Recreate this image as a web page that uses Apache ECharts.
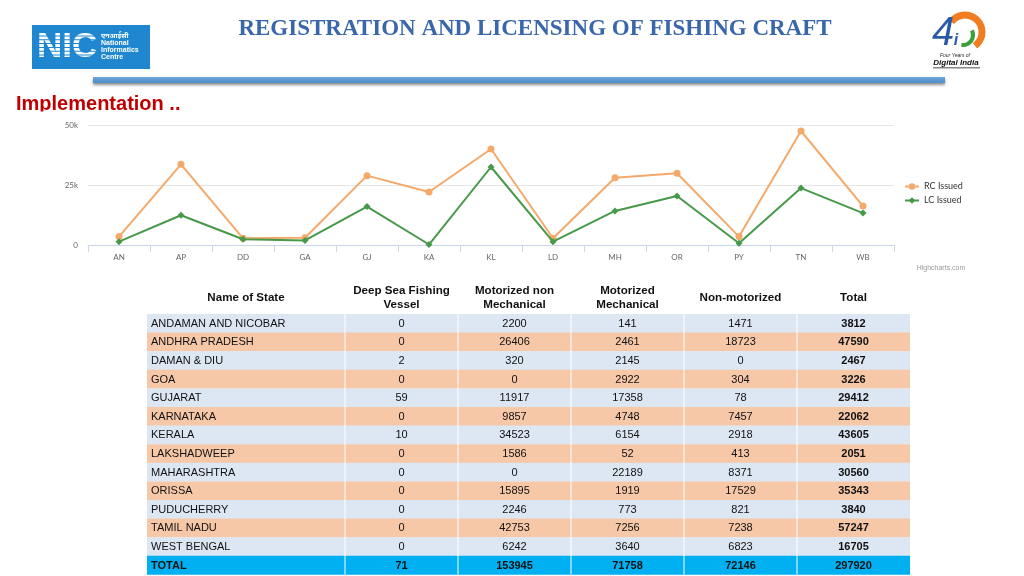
<!DOCTYPE html>
<html>
<head>
<meta charset="utf-8">
<script src="https://cdn.jsdelivr.net/npm/echarts@6/dist/echarts.min.js"></script>
<style>
html,body{margin:0;padding:0;background:#fff;}
#c{width:1024px;height:576px;}
</style>
</head>
<body>
<div id="c"></div>
<script>
// ---- chart data ----
const categories = ['AN','AP','DD','GA','GJ','KA','KL','LD','MH','OR','PY','TN','WB'];
const rcIssued = [3500, 33600, 2800, 3000, 28900, 22100, 40000, 2800, 28000, 29900, 3500, 47500, 16200];
const lcIssued = [1400, 12400, 2400, 1900, 16000, 200, 32500, 1400, 14200, 20400, 700, 23700, 13300];
const yTicks = [0, 25000, 50000];
const seriesNames = ['RC Issued', 'LC Issued'];

// ---- table data ----
const tableHeaders = ['Name of State', 'Deep Sea Fishing\nVessel', 'Motorized non\nMechanical', 'Motorized\nMechanical', 'Non-motorized', 'Total'];
const stateNames = ['ANDAMAN AND NICOBAR','ANDHRA PRADESH','DAMAN & DIU','GOA','GUJARAT','KARNATAKA','KERALA','LAKSHADWEEP','MAHARASHTRA','ORISSA','PUDUCHERRY','TAMIL NADU','WEST BENGAL'];
const deepSea = [0, 0, 2, 0, 59, 0, 10, 0, 0, 0, 0, 0, 0];
const motorizedNonMech = [2200, 26406, 320, 0, 11917, 9857, 34523, 1586, 0, 15895, 2246, 42753, 6242];
const motorizedMech = [141, 2461, 2145, 2922, 17358, 4748, 6154, 52, 22189, 1919, 773, 7256, 3640];
const nonMotorized = [1471, 18723, 0, 304, 78, 7457, 2918, 413, 8371, 17529, 821, 7238, 6823];
const totals = [3812, 47590, 2467, 3226, 29412, 22062, 43605, 2051, 30560, 35343, 3840, 57247, 16705];
const totalRow = ['TOTAL', 71, 153945, 71758, 72146, 297920];

const titleText = 'REGISTRATION AND LICENSING OF FISHING CRAFT';
const subTitleText = 'Implementation ..';

// ---- layout ----
const colEdges = [147, 345, 458, 571, 684, 797, 910];
const rowTop = 314, rowH = 18.6;
const FONT = '"Liberation Sans", Arial, sans-serif';

function txt(text, x, y, font, fill, align, valign, z) {
  return {type: 'text', z: z || 10, style: {text: text, x: x, y: y, font: font, fill: fill,
    align: align || 'left', textAlign: align || 'left',
    verticalAlign: valign || 'middle', textVerticalAlign: valign || 'middle'}};
}

const g = [];
// title
g.push(txt(titleText, 535, 29, 'bold 23px "Liberation Serif", "Times New Roman", serif', '#3a66aa', 'center', 'middle'));
// subtitle (clipped at the bottom)
g.push(txt(subTitleText, 16, 94, 'bold 20px ' + FONT, '#c00000', 'left', 'top'));
g.push({type: 'rect', z: 11, shape: {x: 10, y: 111.5, width: 200, height: 8}, style: {fill: '#ffffff'}});
// blue bar
g.push({type: 'rect', z: 5, shape: {x: 93, y: 77, width: 852, height: 6},
  style: {fill: new echarts.graphic.LinearGradient(0,0,0,1,[{offset:0,color:'#6ea6da'},{offset:1,color:'#4f8cc8'}]),
    shadowBlur: 3, shadowColor: 'rgba(0,0,0,0.45)', shadowOffsetY: 2}});

// NIC logo
g.push({type: 'rect', z: 5, shape: {x: 32, y: 25, width: 118, height: 44}, style: {fill: '#1f87cf'}});
g.push(txt('NIC', 37, 47, 'bold 35px ' + FONT, '#ffffff', 'left', 'middle', 6));
for (let k = 0; k < 7; k++) {
  g.push({type: 'rect', z: 7, shape: {x: 36, y: 35.5 + k * 3.8, width: 62, height: 1}, style: {fill: '#1f87cf'}});
}
g.push(txt('एनआईसी', 101, 36, 'bold 7px "Noto Sans", sans-serif', '#ffffff', 'left', 'middle', 6));
g.push(txt('National', 101, 43, 'bold 7px ' + FONT, '#ffffff', 'left', 'middle', 6));
g.push(txt('Informatics', 101, 50, 'bold 7px ' + FONT, '#ffffff', 'left', 'middle', 6));
g.push(txt('Centre', 101, 57, 'bold 7px ' + FONT, '#ffffff', 'left', 'middle', 6));

// Digital India logo
g.push({type: 'arc', z: 6, shape: {cx: 965, cy: 32, r: 17, startAngle: -Math.PI * 0.8, endAngle: Math.PI * 0.3},
  style: {stroke: '#f07d22', lineWidth: 7, fill: null}});
g.push({type: 'arc', z: 6, shape: {cx: 963, cy: 35, r: 10, startAngle: -Math.PI * 0.15, endAngle: Math.PI * 0.55},
  style: {stroke: '#3aa03a', lineWidth: 4, fill: null}});
g.push(txt('4', 943, 34, 'italic 40px ' + FONT, '#2a5aa6', 'center', 'middle', 7));
g.push(txt('i', 956, 41, 'italic bold 16px ' + FONT, '#2a5aa6', 'center', 'middle', 7));
g.push(txt('Four Years of', 955, 56, 'italic 5px ' + FONT, '#222', 'center', 'middle', 7));
g.push(txt('Digital India', 956, 63, 'italic bold 8px ' + FONT, '#111', 'center', 'middle', 7));
g.push({type: 'rect', z: 7, shape: {x: 933, y: 67.5, width: 47, height: 0.8}, style: {fill: '#111'}});

// credit
g.push(txt('Highcharts.com', 941, 268, '7px ' + FONT, '#999', 'center', 'middle'));

// table header
const colCenters = [];
for (let c = 0; c < 6; c++) colCenters.push((colEdges[c] + colEdges[c + 1]) / 2);
tableHeaders.forEach(function (h, c) {
  const t = txt(h, colCenters[c], 298, 'bold 11.6px ' + FONT, '#111', 'center', 'middle');
  t.style.lineHeight = 14;
  g.push(t);
});

// table rows
const nRows = stateNames.length;
for (let i = 0; i <= nRows; i++) {
  const y = rowTop + i * rowH;
  const isTotal = i === nRows;
  const fill = isTotal ? '#00b0f0' : (i % 2 === 0 ? '#dde7f3' : '#f7c8a8');
  g.push({type: 'rect', z: 2, shape: {x: colEdges[0], y: y, width: colEdges[6] - colEdges[0], height: rowH + 0.3}, style: {fill: fill}});
  const vals = isTotal ? totalRow :
    [stateNames[i], deepSea[i], motorizedNonMech[i], motorizedMech[i], nonMotorized[i], totals[i]];
  const cy = y + rowH / 2 + 0.5;
  vals.forEach(function (v, c) {
    const bold = isTotal || c === 5;
    const font = (bold ? 'bold ' : '') + '11px ' + FONT;
    if (c === 0) g.push(txt(String(v), colEdges[0] + 4, cy, font, '#111', 'left', 'middle'));
    else g.push(txt(String(v), colCenters[c], cy, font, '#111', 'center', 'middle'));
  });
}
// column separators
for (let c = 1; c < 6; c++) {
  g.push({type: 'rect', z: 3, shape: {x: colEdges[c] - 0.5, y: rowTop, width: 1, height: rowH * (nRows + 1)}, style: {fill: '#ffffff'}});
}

const chart = echarts.init(document.getElementById('c'), null, {renderer: 'canvas'});
chart.setOption({
  backgroundColor: '#ffffff',
  animation: false,
  grid: {left: 88, right: 130, top: 125, bottom: 331, containLabel: false},
  legend: {
    orient: 'vertical', left: 899, top: 177, itemGap: 5, itemWidth: 14, itemHeight: 8,
    data: seriesNames,
    textStyle: {fontSize: 9, color: '#333', fontFamily: 'Lato, "Open Sans", sans-serif'}
  },
  xAxis: {
    type: 'category', data: categories, boundaryGap: true,
    axisLine: {lineStyle: {color: '#ccd6eb'}},
    axisTick: {show: true, length: 7, lineStyle: {color: '#ccd6eb'}},
    axisLabel: {fontSize: 8, color: '#666', margin: 8, fontFamily: 'Lato, "Open Sans", sans-serif'}
  },
  yAxis: {
    type: 'value', min: yTicks[0], max: yTicks[yTicks.length - 1], interval: yTicks[1] - yTicks[0],
    axisLine: {show: false}, axisTick: {show: false},
    splitLine: {lineStyle: {color: '#e6e6e6'}},
    axisLabel: {fontSize: 8, color: '#666', margin: 10, fontFamily: 'Lato, "Open Sans", sans-serif',
      formatter: function (v) { return v === 0 ? '0' : (v / 1000) + 'k'; }}
  },
  series: [
    {name: seriesNames[0], type: 'line', data: rcIssued, symbol: 'circle', symbolSize: 7,
      lineStyle: {width: 2, color: '#f4a96a'}, itemStyle: {color: '#f4a96a'}, z: 3},
    {name: seriesNames[1], type: 'line', data: lcIssued, symbol: 'diamond', symbolSize: 7,
      lineStyle: {width: 2, color: '#47994a'}, itemStyle: {color: '#47994a'}, z: 4}
  ],
  graphic: g
});
</script>
</body>
</html>
